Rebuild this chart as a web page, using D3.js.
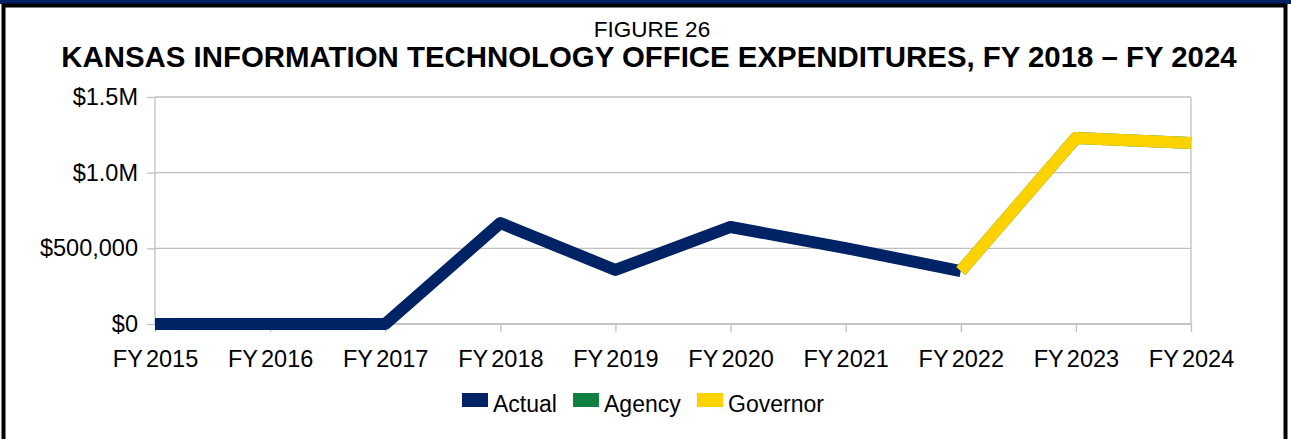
<!DOCTYPE html>
<html>
<head>
<meta charset="utf-8">
<script src="https://cdn.jsdelivr.net/npm/d3@7"></script>
<style>
  body { margin: 0; background: #fff; }
  svg { display: block; font-family: "Liberation Sans", Arial, sans-serif; }
</style>
</head>
<body>
<div id="chart"></div>
<script>
// data
const years = ["FY 2015", "FY 2016", "FY 2017", "FY 2018", "FY 2019", "FY 2020", "FY 2021", "FY 2022", "FY 2023", "FY 2024"];
const actual = [0, 0, 0, 667000, 357000, 641000, 502000, 350000, null, null];
const agency = [null, null, null, null, null, null, null, 350000, 1229000, 1196000];
const governor = [null, null, null, null, null, null, null, 350000, 1229000, 1196000];
const yTicks = [0, 500000, 1000000, 1500000];
const yTickLabels = ["$0", "$500,000", "$1.0M", "$1.5M"];

const W = 1291, H = 439;
const plot = { left: 155, right: 1191, top: 97, bottom: 324 };

const svg = d3.select("#chart").append("svg")
    .attr("width", W).attr("height", H);

// frame: navy band on top, black border round
svg.append("rect").attr("x", 0).attr("y", 0).attr("width", W).attr("height", 4).attr("fill", "#002366");
svg.append("rect").attr("x", 3.5).attr("y", 5.5).attr("width", 1282).attr("height", 440)
    .attr("fill", "none").attr("stroke", "#000").attr("stroke-width", 4);

const x = d3.scalePoint().domain(years).range([plot.left, plot.right]).padding(0);
const y = d3.scaleLinear().domain([0, 1500000]).range([plot.bottom, plot.top]);

// gridlines
svg.append("g").selectAll("line").data(yTicks).join("line")
    .attr("x1", plot.left).attr("x2", plot.right)
    .attr("y1", d => y(d)).attr("y2", d => y(d))
    .attr("stroke", "#c0c0c0").attr("stroke-width", 1.3);

// right wall edge
svg.append("line").attr("x1", plot.right).attr("x2", plot.right)
    .attr("y1", plot.top).attr("y2", plot.bottom)
    .attr("stroke", "#c0c0c0").attr("stroke-width", 1.3);

// y axis
const yAxis = svg.append("g").attr("transform", `translate(${plot.left},0)`)
    .call(d3.axisLeft(y).tickValues(yTicks).tickSize(8).tickPadding(9)
        .tickFormat((d, i) => yTickLabels[i]));
// x axis
const xAxis = svg.append("g").attr("transform", `translate(0,${plot.bottom})`)
    .call(d3.axisBottom(x).tickSize(8));

[yAxis, xAxis].forEach(a => {
    a.select(".domain").attr("stroke", "#c0c0c0").attr("stroke-width", 1.3);
    a.selectAll(".tick line").attr("stroke", "#c0c0c0").attr("stroke-width", 1.3);
    a.selectAll("text").attr("fill", "#000").style("font-size", "23.5px")
        .style("font-family", "'Liberation Sans', Arial, sans-serif");
});
xAxis.selectAll(".tick text").attr("y", 43).attr("dy", 0).style("word-spacing", "-3px");
xAxis.select(".domain").attr("d", `M${plot.left},0H${plot.right}`);
yAxis.select(".domain").attr("d", `M0,${plot.top}V${plot.bottom}`);

// lines
const line = d3.line()
    .defined(d => d != null)
    .x((d, i) => x(years[i]))
    .y(d => y(d));

const series = [
    { name: "Actual", values: actual, color: "#002366" },
    { name: "Agency", values: agency, color: "#128040" },
    { name: "Governor", values: governor, color: "#fcd200" }
];

svg.append("g").selectAll("path").data(series).join("path")
    .attr("d", d => line(d.values))
    .attr("fill", "none")
    .attr("stroke", d => d.color)
    .attr("stroke-width", 12)
    .attr("stroke-linejoin", "round")
    .attr("stroke-linecap", "butt");

// titles
svg.append("text").attr("x", 652).attr("y", 37).attr("text-anchor", "middle")
    .style("font-size", "22.5px").text("FIGURE 26");
svg.append("text").attr("x", 649).attr("y", 67).attr("text-anchor", "middle")
    .style("font-size", "29.4px").style("font-weight", "bold")
    .text("KANSAS INFORMATION TECHNOLOGY OFFICE EXPENDITURES, FY 2018 – FY 2024");

// legend
const legendX = [462, 573, 697];
const legend = svg.append("g").selectAll("g").data(series).join("g")
    .attr("transform", (d, i) => `translate(${legendX[i]},393)`);
legend.append("rect").attr("width", 26).attr("height", 14).attr("fill", d => d.color);
legend.append("text").attr("x", 31).attr("y", 19)
    .style("font-size", "23px").text(d => d.name);
</script>
</body>
</html>
